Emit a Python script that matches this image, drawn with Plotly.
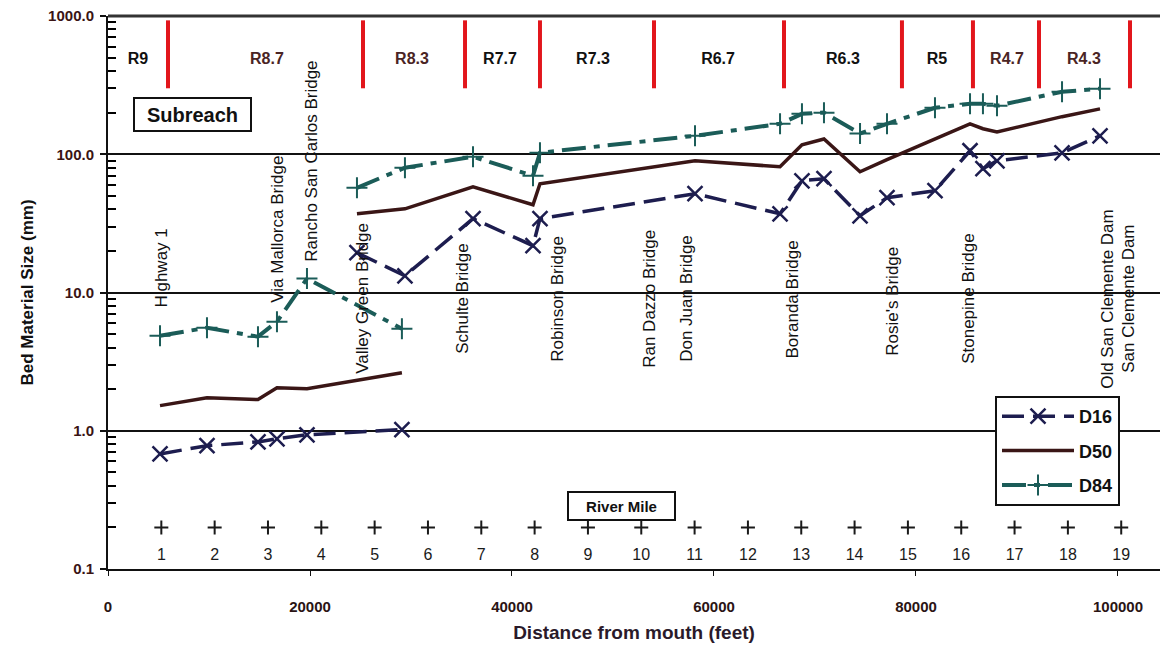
import math
import plotly.graph_objects as go

# ---------------- data ----------------
# lower reach (near mouth): distances (ft) and grain sizes (mm)
seg1_x = [5150, 9800, 14850, 16730, 19700, 29100]
d16_seg1 = [0.68, 0.78, 0.83, 0.875, 0.935, 1.02]
d50_seg1 = [1.52, 1.73, 1.68, 2.05, 2.01, 2.63]
d84_seg1 = [4.87, 5.56, 4.79, 6.15, 12.6, 5.47]

# upper reach
seg2_x = [24650, 29400, 36140, 42080, 42770, 58120, 66540, 68710, 70890,
          74460, 77130, 81880, 85350, 86630, 88020, 94460, 98220]
d16_seg2 = [19.4, 13.2, 34.2, 21.8, 34.2, 51.8, 37.1, 64.3, 66.5,
            35.9, 48.5, 54.5, 106, 78.6, 89.7, 102.5, 136]
d50_seg2 = [37.1, 40.3, 58.2, 43.1, 61.2, 89.7, 81.2, 117, 129,
            74.7, 91.3, 129, 166, 153, 145, 187, 213]
d84_seg2 = [57.2, 79.9, 95.9, 69.9, 102.5, 136, 166, 196, 200,
            141, 166, 217, 232, 232, 224, 283, 298]

# subreach boundaries and labels
subreach_bounds_x = [5940, 25250, 35350, 42770, 54060, 66930, 78610, 85640, 92180, 101190]
subreach_label_x = [2970, 15740, 30100, 38810, 48020, 60400, 72770, 82080, 89010, 96630]
subreach_labels = ["R9", "R8.7", "R8.3", "R7.7", "R7.3", "R6.7", "R6.3", "R5", "R4.7", "R4.3"]
subreach_label_colors = ["#111111", "#4a2424", "#4a2424", "#111111", "#111111",
                         "#111111", "#111111", "#111111", "#4a2424", "#4a2424"]

# bridges / landmarks
bridge_names = ["Highway 1", "Via Mallorca Bridge", "Rancho San Carlos Bridge",
                "Valley Green Bridge", "Schulte Bridge", "Robinson Bridge",
                "Ran Dazzo Bridge", "Don Juan Bridge", "Boranda Bridge",
                "Rosie's Bridge", "Stonepine Bridge", "Old San Clemente Dam",
                "San Clemente Dam"]
bridge_x = [5350, 16830, 20200, 25250, 35150, 44550, 53660, 57330, 67820,
            77720, 85250, 99010, 101090]
bridge_y = [14.9, 28.9, 88.3, 9.0, 9.0, 9.0, 9.0, 9.0, 8.9, 8.7, 9.0, 9.0, 9.0]

# river miles
mile_numbers = ["1", "2", "3", "4", "5", "6", "7", "8", "9", "10",
                "11", "12", "13", "14", "15", "16", "17", "18", "19"]
mile_x = [5280, 10560, 15840, 21120, 26400, 31680, 36960, 42240, 47520, 52800,
          58080, 63360, 68640, 73920, 79200, 84480, 89760, 95040, 100320]

# y-axis minor tick values
y_minor_ticks = [0.2, 0.3, 0.4, 0.5, 0.6, 0.7, 0.8, 0.9,
                 2, 3, 4, 5, 6, 7, 8, 9,
                 20, 30, 40, 50, 60, 70, 80, 90,
                 200, 300, 400, 500, 600, 700, 800, 900]

# ---------------- style ----------------
FONT = "Liberation Sans, Arial, sans-serif"
C16 = "#1d1d4f"
C50 = "#3a1616"
C84 = "#1b5c58"
RED = "#e2161c"

fig = go.Figure()

# D16
for i, (xs, ys) in enumerate([(seg1_x, d16_seg1), (seg2_x, d16_seg2)]):
    fig.add_trace(go.Scatter(
        x=xs, y=ys, mode="lines+markers", name="D16", legendgroup="D16",
        showlegend=(i == 0),
        line=dict(color=C16, width=3.5, dash="22px,9px"),
        marker=dict(symbol="x-thin", size=15, line=dict(color=C16, width=2.5)),
    ))
# D50
for i, (xs, ys) in enumerate([(seg1_x, d50_seg1), (seg2_x, d50_seg2)]):
    fig.add_trace(go.Scatter(
        x=xs, y=ys, mode="lines", name="D50", legendgroup="D50",
        showlegend=(i == 0),
        line=dict(color=C50, width=3.5),
    ))
# D84
for i, (xs, ys) in enumerate([(seg1_x, d84_seg1), (seg2_x, d84_seg2)]):
    fig.add_trace(go.Scatter(
        x=xs, y=ys, mode="lines+markers", name="D84", legendgroup="D84",
        showlegend=(i == 0),
        line=dict(color=C84, width=4, dash="24px,8px,6px,8px"),
        marker=dict(symbol="cross-thin", size=15, line=dict(color=C84, width=2)),
    ))

# subreach boundary lines
sx, sy = [], []
for bx in subreach_bounds_x:
    sx += [bx, bx, None]
    sy += [300, 930, None]
fig.add_trace(go.Scatter(x=sx, y=sy, mode="lines", showlegend=False,
                         line=dict(color=RED, width=4), hoverinfo="skip"))

# subreach labels
fig.add_trace(go.Scatter(
    x=subreach_label_x, y=[480] * len(subreach_labels), mode="text",
    text=["<b>%s</b>" % s for s in subreach_labels], showlegend=False,
    textfont=dict(family=FONT, size=16, color=subreach_label_colors),
    textposition="middle center", hoverinfo="skip"))

# river mile crosses (drawn on the overlay axis that carries the minor ticks) and numbers
fig.add_trace(go.Scatter(
    x=mile_x, y=[0.2] * len(mile_x), mode="markers", showlegend=False, yaxis="y2",
    marker=dict(symbol="cross-thin", size=10, line=dict(color="#1a1a1a", width=2)),
    hoverinfo="skip"))
fig.add_trace(go.Scatter(
    x=mile_x, y=[0.124] * len(mile_x), mode="text", text=mile_numbers,
    showlegend=False, textfont=dict(family=FONT, size=16, color="#1a1a1a"),
    textposition="middle center", hoverinfo="skip"))

annotations = []
for name, bx, by in zip(bridge_names, bridge_x, bridge_y):
    annotations.append(dict(
        x=bx, y=math.log10(by), xref="x", yref="y", text=name,
        textangle=-90, showarrow=False, xanchor="center", yanchor="middle",
        font=dict(family=FONT, size=17, color="#111111")))

annotations.append(dict(
    x=8320, y=math.log10(195), xref="x", yref="y",
    text="<b>Subreach</b>", showarrow=False, bgcolor="white",
    bordercolor="#111111", borderwidth=2, borderpad=2, width=111, height=27,
    font=dict(family=FONT, size=20, color="#111111")))
annotations.append(dict(
    x=50800, y=math.log10(0.2855), xref="x", yref="y",
    text="<b>River Mile</b>", showarrow=False, bgcolor="white",
    bordercolor="#111111", borderwidth=2, borderpad=2, width=101, height=22,
    font=dict(family=FONT, size=15, color="#111111")))

shapes = [dict(type="line", xref="paper", yref="paper", x0=0, x1=1, y0=1, y1=1,
               line=dict(color="#333333", width=3))]

fig.update_layout(
    width=1160, height=646,
    margin=dict(l=108, r=0, t=16, b=77),
    paper_bgcolor="white", plot_bgcolor="white",
    font=dict(family=FONT, color="#2a1414"),
    annotations=annotations,
    shapes=shapes,
    legend=dict(
        x=(995 - 108) / 1052, y=(569 - 396) / 553, xanchor="left", yanchor="top",
        bgcolor="white", bordercolor="#111111", borderwidth=2,
        font=dict(family=FONT, size=18, color="#111111", weight="bold"),
        itemwidth=72, tracegroupgap=8, traceorder="grouped"),
    yaxis2=dict(
        type="log", range=[-1, 3], overlaying="y", side="left", anchor="x",
        tickmode="array", tickvals=y_minor_ticks, ticks="inside", ticklen=8,
        tickwidth=2, tickcolor="#000000", showticklabels=False,
        showgrid=False, zeroline=False, showline=False),
)

fig.update_xaxes(
    range=[0, 104160], tick0=0, dtick=20000, tickformat="d",
    showgrid=False, zeroline=False, showline=True, linecolor="#111111", linewidth=2,
    ticks="outside", ticklen=5, tickcolor="#111111", ticklabelstandoff=18,
    tickfont=dict(family=FONT, size=15, color="#2a1414", weight="bold"),
    title=dict(text="<b>Distance from mouth (feet)</b>", standoff=12,
               font=dict(family=FONT, size=19, color="#2a1a2a")),
)
fig.update_layout(yaxis=dict(
    type="log", range=[-1, 3], dtick=1, tickformat=".1f",
    showgrid=True, gridcolor="#111111", gridwidth=1.5, zeroline=False,
    showline=True, linecolor="#111111", linewidth=2,
    ticks="outside", ticklen=6, tickwidth=2, tickcolor="#111111", ticklabelstandoff=3,
    tickfont=dict(family=FONT, size=15, color="#3a1414", weight="bold"),
    title=dict(text="<b>Bed Material Size (mm)</b>", standoff=10,
               font=dict(family=FONT, size=17, color="#111111")),
))

fig.write_html("out.html", config={"displayModeBar": False},
               post_script="document.body.style.margin='0';")
